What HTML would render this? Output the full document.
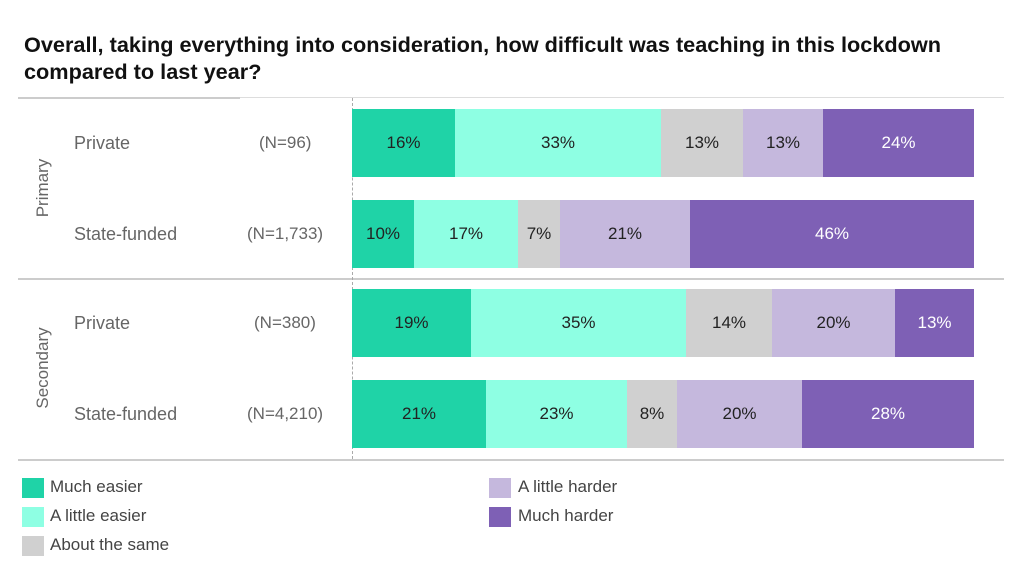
<!DOCTYPE html><html><head><style>
body{margin:0;background:#fff;font-family:"Liberation Sans",sans-serif;}
.t{position:absolute;white-space:nowrap}
.b{position:absolute;display:flex;align-items:center;justify-content:center;font-size:17px;color:#222}
</style></head><body>
<div style="position:relative;width:1024px;height:585px;overflow:hidden">
<div class="t" style="left:24px;top:31px;font-size:21.7px;font-weight:bold;color:#111;line-height:27px">Overall, taking everything into consideration, how difficult was teaching in this lockdown<br>compared to last year?</div>
<div style="position:absolute;left:18px;top:97px;width:986px;height:1px;background:#ddd"></div>
<div style="position:absolute;left:18px;top:97px;width:222px;height:2px;background:#ccc"></div>
<div style="position:absolute;left:18px;top:278px;width:986px;height:2px;background:#ccc"></div>
<div style="position:absolute;left:18px;top:459px;width:986px;height:2px;background:#ccc"></div>
<div style="position:absolute;left:352px;top:98px;height:361px;border-left:1px dashed #aaa"></div>
<div class="t" style="left:43px;top:188px;transform:translate(-50%,-50%) rotate(-90deg);font-size:17px;color:#666">Primary</div>
<div class="t" style="left:43px;top:368px;transform:translate(-50%,-50%) rotate(-90deg);font-size:17px;color:#666">Secondary</div>
<div class="t" style="left:74px;top:133px;font-size:18px;color:#666">Private</div>
<div class="t" style="left:74px;top:224px;font-size:18px;color:#666">State-funded</div>
<div class="t" style="left:74px;top:313px;font-size:18px;color:#666">Private</div>
<div class="t" style="left:74px;top:404px;font-size:18px;color:#666">State-funded</div>
<div class="t" style="left:259px;top:133px;font-size:17px;color:#666">(N=96)</div>
<div class="t" style="left:247px;top:224px;font-size:17px;color:#666">(N=1,733)</div>
<div class="t" style="left:254px;top:313px;font-size:17px;color:#666">(N=380)</div>
<div class="t" style="left:247px;top:404px;font-size:17px;color:#666">(N=4,210)</div>
<div id="bars"></div>
<script>
var C=["#1fd3a7","#8effe3","#d0d0d0","#c5b8dd","#7e60b5"];
var R=[[109,[352,455,661,743,823,974],["16%","33%","13%","13%","24%"]],
[200,[352,414,518,560,690,974],["10%","17%","7%","21%","46%"]],
[289,[352,471,686,772,895,974],["19%","35%","14%","20%","13%"]],
[380,[352,486,627,677,802,974],["21%","23%","8%","20%","28%"]]];
var h="";R.forEach(function(r){for(var i=0;i<5;i++){h+='<div class="b" style="left:'+r[1][i]+'px;top:'+r[0]+'px;width:'+(r[1][i+1]-r[1][i])+'px;height:68px;background:'+C[i]+';'+(i==4?'color:#fff':'')+'">'+r[2][i]+'</div>';}});
document.getElementById('bars').innerHTML=h;
</script>
<div style="position:absolute;left:22px;top:478px;width:22px;height:20px;background:#1fd3a7"></div>
<div style="position:absolute;left:22px;top:507px;width:22px;height:20px;background:#8effe3"></div>
<div style="position:absolute;left:22px;top:536px;width:22px;height:20px;background:#d0d0d0"></div>
<div style="position:absolute;left:489px;top:478px;width:22px;height:20px;background:#c5b8dd"></div>
<div style="position:absolute;left:489px;top:507px;width:22px;height:20px;background:#7e60b5"></div>
<div class="t" style="left:50px;top:477px;font-size:17px;color:#444">Much easier</div>
<div class="t" style="left:50px;top:506px;font-size:17px;color:#444">A little easier</div>
<div class="t" style="left:50px;top:535px;font-size:17px;color:#444">About the same</div>
<div class="t" style="left:518px;top:477px;font-size:17px;color:#444">A little harder</div>
<div class="t" style="left:518px;top:506px;font-size:17px;color:#444">Much harder</div>
</div></body></html>
